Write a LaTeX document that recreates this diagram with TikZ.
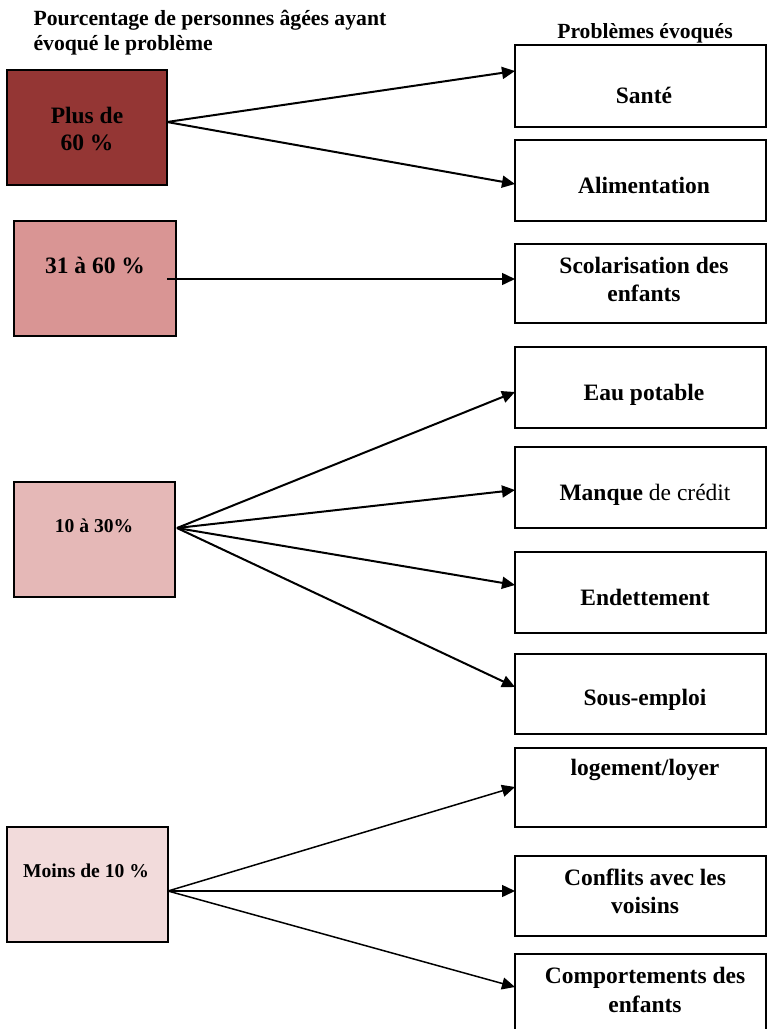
\documentclass[tikz,border=0pt]{standalone}
\usepackage{fontspec}
\setmainfont{Liberation Serif}
\usetikzlibrary{arrows.meta}
\definecolor{cA}{HTML}{943634}
\definecolor{cB}{HTML}{D99594}
\definecolor{cC}{HTML}{E5B8B7}
\definecolor{cD}{HTML}{F2DBDB}
\tikzset{
  lbox/.style={draw=black, line width=1.8pt},
  rbox/.style={draw=black, line width=1.8pt},
  lbl/.style={anchor=base, align=center, font=\fontsize{23.5}{28}\selectfont\bfseries},
  small/.style={anchor=base, align=center, font=\fontsize{19.6}{24}\selectfont\bfseries},
  conn/.style={line width=2pt, -{Triangle[length=13pt,width=12pt]}},
  connthin/.style={line width=1.5pt, -{Triangle[length=13pt,width=12pt]}},
}
\begin{document}
\begin{tikzpicture}[x=1pt,y=-1pt]
\useasboundingbox (0,0) rectangle (767,1029);
% titles
\node[anchor=base west, font=\fontsize{21.7}{25}\selectfont\bfseries, align=left] (title) at (30,25) {Pourcentage de personnes âgées ayant};
\node[anchor=base west, font=\fontsize{21.7}{25}\selectfont\bfseries, align=left] (title2) at (30,50) {évoqué le problème};
\node[anchor=base, font=\fontsize{21.6}{25}\selectfont\bfseries] (header) at (645,38) {Problèmes évoqués};
% left boxes
\draw[lbox, fill=cA] (7,70) rectangle (167,185);
\node[lbl] (pA1) at (87,123) {Plus de};
\node[lbl] (pA2) at (87,150) {60 \%};
\draw[lbox, fill=cB] (14,221) rectangle (176,336);
\node[lbl] (pB) at (95,273) {31 à 60 \%};
\draw[lbox, fill=cC] (14,482) rectangle (175,597);
\node[small] (pC) at (94,532) {10 à 30\%};
\draw[lbox, fill=cD] (7,827) rectangle (168,942);
\node[small] (pD) at (86,877) {Moins de 10 \%};
% right boxes
\draw[rbox] (515,45) rectangle (766,127);
\node[lbl] (sante) at (644,103) {Santé};
\draw[rbox] (515,140) rectangle (766,221);
\node[lbl] (alim) at (644,193) {Alimentation};
\draw[rbox] (515,244) rectangle (766,323);
\node[lbl] (scol1) at (644,273) {Scolarisation des};
\node[lbl] (scol2) at (644,301) {enfants};
\draw[rbox] (515,347) rectangle (766,428);
\node[lbl] (eau) at (644,400) {Eau potable};
\draw[rbox] (515,447) rectangle (766,528);
\node[lbl] (credit) at (645,500) {Manque \mdseries de crédit};
\draw[rbox] (515,552) rectangle (766,633);
\node[lbl] (endet) at (645,605) {Endettement};
\draw[rbox] (515,654) rectangle (766,734);
\node[lbl] (sous) at (645,705) {Sous-emploi};
\draw[rbox] (515,748) rectangle (766,827);
\node[lbl] (loge) at (645,775) {logement/loyer};
\draw[rbox] (515,856) rectangle (766,936);
\node[lbl] (conf1) at (645,885) {Conflits avec les};
\node[lbl] (conf2) at (645,913) {voisins};
\draw[rbox] (515,954) rectangle (766,1040);
\node[lbl] (comp1) at (645,983) {Comportements des};
\node[lbl] (comp2) at (645,1012) {enfants};
% connector points
\coordinate (sA) at (167,122);
\coordinate (sB) at (167,279);
\coordinate (sC) at (177,528);
\coordinate (sD) at (168,891);
\coordinate (tSante) at (515,71);
\coordinate (tAlim) at (515,184);
\coordinate (tScol) at (515,279);
\coordinate (tEau) at (515,392);
\coordinate (tCred) at (515,490);
\coordinate (tEnd) at (515,585);
\coordinate (tSous) at (515,687);
\coordinate (tLoge) at (515,787);
\coordinate (tConf) at (515,891);
\coordinate (tComp) at (515,987);
% connectors
\draw[conn] (sA) -- (tSante);
\draw[conn] (sA) -- (tAlim);
\draw[connthin] (sB) -- (tScol);
\draw[conn] (sC) -- (tEau);
\draw[conn] (sC) -- (tCred);
\draw[conn] (sC) -- (tEnd);
\draw[conn] (sC) -- (tSous);
\draw[connthin] (sD) -- (tLoge);
\draw[connthin] (sD) -- (tConf);
\draw[connthin] (sD) -- (tComp);
\end{tikzpicture}
\end{document}
